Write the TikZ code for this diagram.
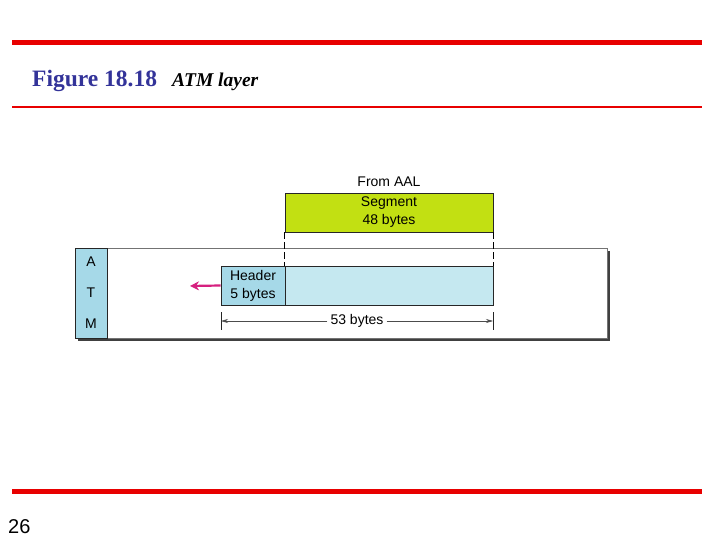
\documentclass[tikz,border=0pt]{standalone}
\usepackage{fontspec}
\setmainfont{Liberation Serif}
\setsansfont{Liberation Sans}
\usepackage{xcolor}
\usepackage{tikz}
\usetikzlibrary{arrows.meta,shadows}
\definecolor{barred}{RGB}{232,0,0}
\definecolor{titleblue}{RGB}{51,51,153}
\definecolor{seggreen}{RGB}{194,224,18}
\definecolor{hdrblue}{RGB}{166,217,232}
\definecolor{payblue}{RGB}{197,232,240}
\definecolor{arrowpink}{RGB}{214,32,127}

\begin{document}
\begin{tikzpicture}[x=1pt,y=-1pt,
        box/.style={draw=black!85,line width=0.9pt,inner sep=0pt,align=center,
            font=\sffamily\fontsize{14}{18}\selectfont},
        lbl/.style={inner sep=0pt,font=\sffamily\fontsize{14}{16}\selectfont}]
    \useasboundingbox (0,0) rectangle (720,540);
    \fill[barred] (12,40) rectangle (702,45);
    \fill[barred] (12,106) rectangle (702,108);
    \fill[barred] (12,489) rectangle (702,494);
    \node[anchor=base west,inner sep=0pt,text=titleblue,font=\bfseries\fontsize{23.5}{26}\selectfont] (title) at (32,87) {Figure 18.18};
    \node[anchor=base west,inner sep=0pt,font=\bfseries\itshape\fontsize{19.5}{22}\selectfont] (sub) at (172,87) {ATM layer};
    \node[anchor=base west,inner sep=0pt,font=\sffamily\fontsize{20}{22}\selectfont] (page) at (8,533) {26};

    \node[box,draw=black!55,fill=white,minimum width=532pt,minimum height=90pt,
        drop shadow={shadow xshift=3pt,shadow yshift=-3pt,fill=black!75,opacity=1}] (layer) at (341,293) {};
    \node[box,fill=hdrblue,minimum width=32pt,minimum height=90pt] (atm) at (91,293) {};
    \node[lbl] (a) at (91,262) {A};
    \node[lbl] (t) at (91,293) {T};
    \node[lbl] (m) at (91,324) {M};

    \node[lbl] (aal) at (389,182) {From AAL};
    \node[box,fill=seggreen,minimum width=208pt,minimum height=39pt] (seg) at (389,212.5) {Segment\\48 bytes};
    \node[box,fill=hdrblue,minimum width=64pt,minimum height=39pt] (hdr) at (253,285.5) {Header\\5 bytes};
    \node[box,fill=payblue,minimum width=208pt,minimum height=39pt] (pay) at (389,285.5) {};
    \draw[line width=0.9pt,dash pattern=on 7pt off 3pt] (seg.south west) -- (pay.north west);
    \draw[line width=0.9pt,dash pattern=on 7pt off 3pt] (seg.south east) -- (pay.north east);

    \coordinate (out) at (190,286);
    \draw[arrowpink,line width=2.2pt,-{Stealth[length=9pt,width=9pt]}] (hdr.west) -- (out);

    \coordinate (d1) at (221,321);
    \coordinate (d2) at (493,321);
    \draw[black!85,line width=0.9pt] (221,312) -- (221,330);
    \draw[black!85,line width=0.9pt] (493,312) -- (493,330);
    \node[lbl,fill=white,inner xsep=3pt] (len) at (357,321) {53 bytes};
    \draw[black!70,line width=0.6pt,-{Stealth[length=7pt,width=4pt]}] (len.west) -- (d1);
    \draw[black!70,line width=0.6pt,-{Stealth[length=7pt,width=4pt]}] (len.east) -- (d2);
\end{tikzpicture}
\end{document}
